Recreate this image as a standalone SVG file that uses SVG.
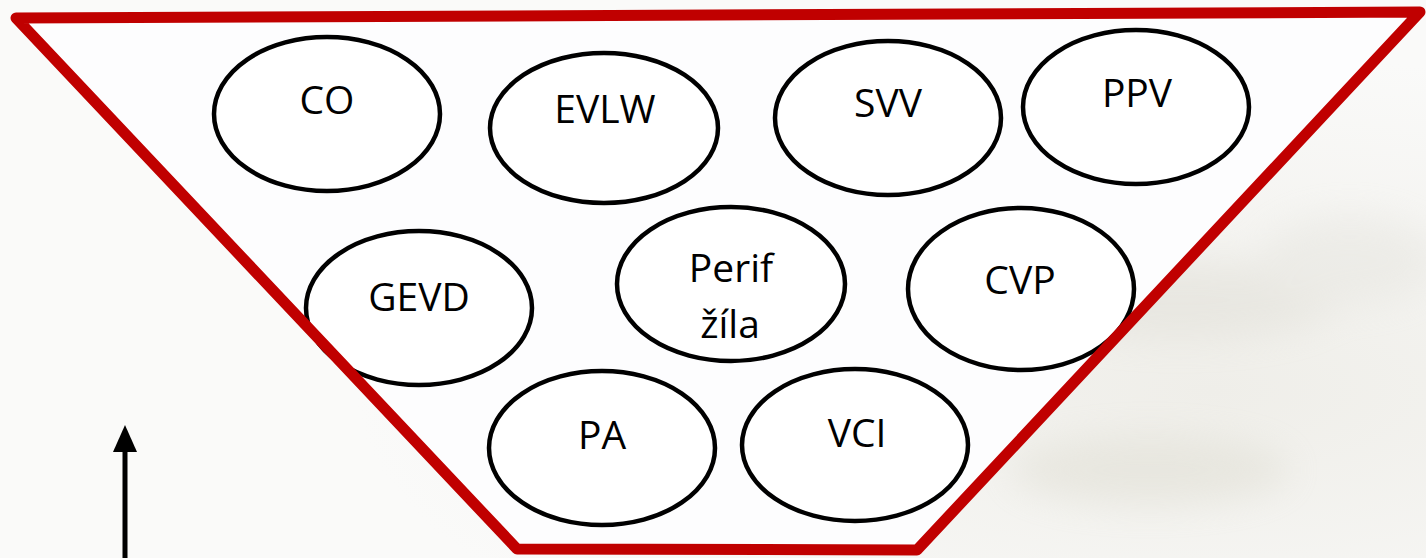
<svg xmlns="http://www.w3.org/2000/svg" width="1426" height="558" viewBox="0 0 1426 558">
  <defs>
    <radialGradient id="bgR" cx="0.85" cy="0.7" r="0.6">
      <stop offset="0" stop-color="#efeee9"/>
      <stop offset="1" stop-color="#fafaf9"/>
    </radialGradient>
    <filter id="blur" x="-30%" y="-30%" width="160%" height="160%">
      <feGaussianBlur stdDeviation="18"/>
    </filter>
  </defs>
  <style>
    .node ellipse { fill: #ffffff; stroke: #000000; stroke-width: 4.5; }
    .node text { font-family: "Open Sans", "Liberation Sans", sans-serif; font-size: 39px; fill: #000000; text-anchor: middle; }
    .trap { fill: none; stroke: #c00000; stroke-width: 11; stroke-linejoin: round; }
  </style>
  <rect x="0" y="0" width="1426" height="558" fill="url(#bgR)"/>
  <g filter="url(#blur)" opacity="0.35">
    <ellipse cx="1180" cy="300" rx="160" ry="40" fill="#d8d6cc"/>
    <ellipse cx="1150" cy="470" rx="140" ry="35" fill="#d6d4c6"/>
    <ellipse cx="1350" cy="260" rx="90" ry="45" fill="#e0dfd8"/>
  </g>
  <polygon points="16,18 1420,12 917,550 517,549" fill="#fdfdfe"/>

  <g id="node-co" class="node">
    <ellipse cx="327" cy="114" rx="113" ry="77"/>
    <text x="327" y="114">CO</text>
  </g>
  <g id="node-evlw" class="node">
    <ellipse cx="604" cy="128" rx="114" ry="75"/>
    <text x="605" y="123">EVLW</text>
  </g>
  <g id="node-svv" class="node">
    <ellipse cx="888" cy="118" rx="113" ry="77"/>
    <text x="888" y="117">SVV</text>
  </g>
  <g id="node-ppv" class="node">
    <ellipse cx="1136" cy="107" rx="113" ry="77"/>
    <text x="1137" y="107">PPV</text>
  </g>
  <g id="node-gevd" class="node">
    <ellipse cx="419" cy="308" rx="113" ry="77"/>
    <text x="419" y="311">GEVD</text>
  </g>
  <g id="node-perif" class="node">
    <ellipse cx="731" cy="284" rx="114" ry="77"/>
    <text x="731" y="282">Perif</text>
    <text x="730" y="338">žíla</text>
  </g>
  <g id="node-cvp" class="node">
    <ellipse cx="1021" cy="289" rx="113" ry="81"/>
    <text x="1020" y="294">CVP</text>
  </g>
  <g id="node-pa" class="node">
    <ellipse cx="602" cy="448" rx="113" ry="77"/>
    <text x="602" y="449">PA</text>
  </g>
  <g id="node-vci" class="node">
    <ellipse cx="855" cy="445" rx="113" ry="76"/>
    <text x="857" y="447">VCI</text>
  </g>

  <g id="funnel">
    <polygon class="trap" points="16,18 1420,12 917,550 517,549"/>
  </g>

  <g id="connectors">
    <line x1="125" y1="558" x2="125" y2="448" stroke="#000" stroke-width="5"/>
    <polygon points="113,452 125,425 137,452" fill="#000"/>
  </g>
</svg>
